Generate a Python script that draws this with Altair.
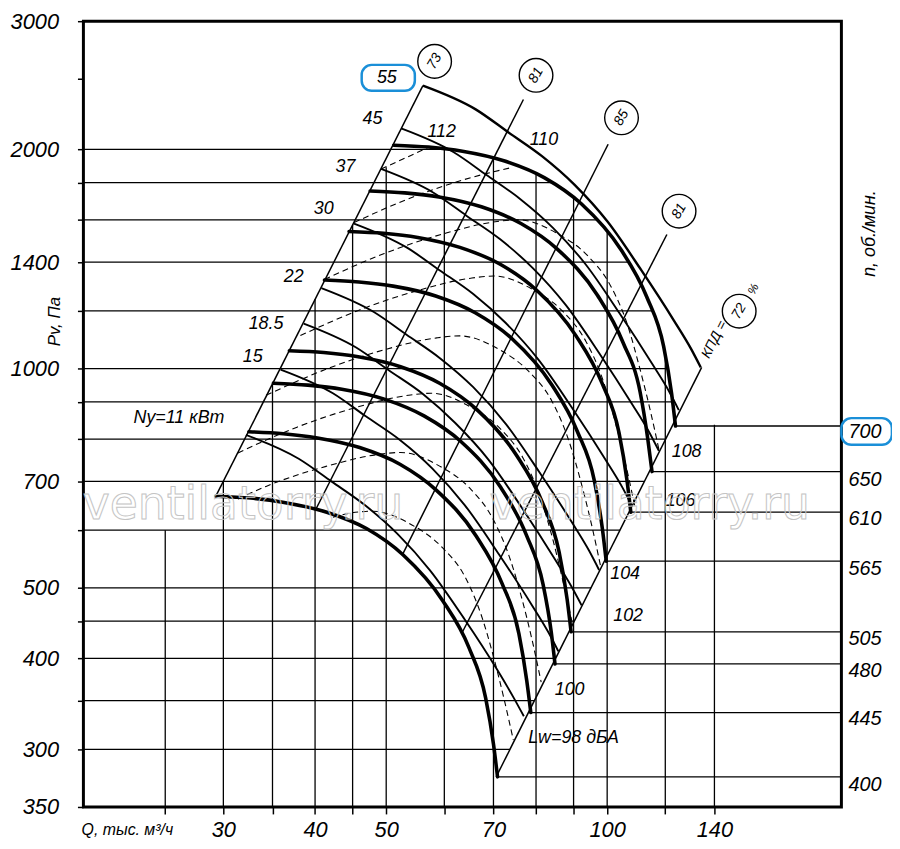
import altair as alt
import pandas as pd

FONT = "Liberation Sans"
BLUE = "#1a8fd8"

# ---------------- axes ----------------
x_tick_values = [25, 30, 35, 40, 45, 50, 60, 70, 80, 90, 100, 120, 140]
x_label_values = [30, 40, 50, 70, 100, 140]
y_tick_values = [250, 300, 350, 400, 450, 500, 600, 700, 800, 900, 1000,
                 1200, 1400, 1600, 1800, 2000, 2500, 3000]
y_label_values = [300, 400, 500, 700, 1000, 1400, 2000, 3000]

# ---------------- grid (clipped to the working field) ----------------
hgrid_p = [300, 350, 400, 450, 500, 600, 700, 800, 900, 1000, 1200, 1400, 1600, 1800, 2000]
hgrid_q_end = [73.7, 79.6, 85.1, 90.2, 95.1, 104.1, 112.4, 120.1, 122.8, 120.9, 115.1, 106.9, 96.7, 84.1, 60.8]
vgrid_q = [25, 30, 35, 40, 45, 50, 60, 70, 80, 90, 100, 120, 140]
vgrid_p_top = [600, 700, 953, 1245, 1576, 1890, 2003, 1948, 1851, 1716, 1538, 1042, 837]

# ---------------- fan curves Pv(Q) at n, об/мин ----------------
rpm_values = [700, 650, 610, 565, 505, 480, 445, 400]
fan_700_q = [51.2, 57.1, 63.5, 72.5, 82.2, 92.2, 104.4, 113.2, 119.4, 122.4, 123.9]
fan_700_p = [2027, 2015, 1989, 1928, 1828, 1684, 1457, 1255, 1072, 924, 834]
fan_650_q = [47.55, 53.0, 59.0, 67.4, 76.3, 85.6, 97.0, 105.1, 110.9, 113.6, 115.1]
fan_650_p = [1754, 1743, 1721, 1668, 1582, 1458, 1261, 1086, 928, 800, 722]
fan_610_q = [44.5, 49.6, 55.2, 63.0, 71.4, 80.1, 90.7, 98.4, 103.8, 106.4, 107.7]
fan_610_p = [1543, 1534, 1514, 1467, 1392, 1282, 1109, 955, 816, 703, 635]
fan_565_q = [41.2, 45.9, 51.1, 58.4, 66.1, 74.2, 84.0, 91.1, 96.1, 98.5, 99.7]
fan_565_p = [1323, 1315, 1298, 1258, 1193, 1099, 951, 819, 700, 603, 544]
fan_505_q = [36.9, 41.1, 45.8, 52.3, 59.2, 66.4, 75.2, 81.6, 86.0, 88.2, 89.3]
fan_505_p = [1058, 1052, 1038, 1006, 954, 879, 761, 655, 560, 482, 435]
fan_480_q = [35.1, 39.1, 43.5, 49.7, 56.3, 63.2, 71.6, 77.6, 81.8, 83.9, 84.9]
fan_480_p = [955, 949, 937, 908, 861, 794, 687, 591, 505, 435, 393]
fan_445_q = [32.5, 36.2, 40.3, 46.0, 52.2, 58.5, 66.3, 71.9, 75.8, 77.7, 78.7]
fan_445_p = [819, 814, 803, 779, 739, 681, 589, 507, 433, 373, 337]
fan_400_q = [29.3, 32.7, 36.3, 41.5, 47.0, 52.7, 59.7, 64.8, 68.3, 70.0, 70.9]
fan_400_p = [668, 664, 655, 635, 603, 555, 480, 414, 353, 305, 275]
rpm_label_p = [819, 704, 621, 531, 425, 384, 330, 268]

# ---------------- power lines Ny, кВт ----------------
pow_55_q = [56.1, 66.2, 73.3, 81.5, 90.3, 100.1, 111.3, 123.3, 130.0, 134.1]
pow_55_p = [2447, 2270, 2112, 1958, 1788, 1592, 1365, 1164, 1066, 1004]
pow_45_q = [52.4, 61.8, 68.5, 76.1, 84.3, 93.5, 103.9, 115.1, 121.4, 125.2]
pow_45_p = [2137, 1982, 1844, 1710, 1562, 1390, 1192, 1016, 931, 877]
pow_37_q = [49.2, 58.0, 64.3, 71.5, 79.2, 87.8, 97.6, 108.1, 114.0, 117.6]
pow_37_p = [1880, 1744, 1622, 1505, 1374, 1223, 1049, 894, 819, 771]
pow_30_q = [45.2, 53.3, 59.1, 65.7, 72.7, 80.6, 89.6, 99.3, 104.7, 108.0]
pow_30_p = [1582, 1467, 1365, 1266, 1156, 1029, 883, 752, 689, 649]
pow_22_q = [40.8, 48.1, 53.3, 59.3, 65.7, 72.8, 80.9, 89.7, 94.5, 97.5]
pow_22_p = [1290, 1196, 1113, 1032, 943, 839, 720, 613, 562, 529]
pow_18_q = [38.6, 45.5, 50.4, 56.1, 62.1, 68.9, 76.6, 84.8, 89.4, 92.3]
pow_18_p = [1153, 1069, 995, 923, 842, 750, 643, 548, 502, 473]
pow_15_q = [35.9, 42.3, 46.9, 52.2, 57.8, 64.0, 71.2, 78.9, 83.2, 85.8]
pow_15_p = [997, 925, 860, 798, 729, 649, 556, 474, 434, 409]
pow_11_q = [32.2, 38.0, 42.1, 46.8, 51.8, 57.4, 63.9, 70.8, 74.6, 77.0]
pow_11_p = [811, 752, 700, 649, 593, 528, 453, 386, 353, 333]

# ---------------- dashed curves ----------------
dash_1_q = [49.2, 52.7, 57.0]
dash_1_p = [1880, 1940, 2012]
dash_2_q = [45.2, 54.5, 65.7, 74.2]
dash_2_p = [1587, 1722, 1833, 1889]
dash_3_q = [41.2, 49.7, 59.9, 70.4, 75.6, 85.6, 94.0, 101.0, 106.5, 110.8, 114.3, 117.6]
dash_3_p = [1326, 1439, 1532, 1591, 1601, 1532, 1430, 1301, 1151, 1000, 882, 775]
dash_4_q = [38.2, 46.0, 55.5, 65.2, 70.1, 79.4, 87.1, 93.6, 98.7, 102.8, 106.0, 109.0]
dash_4_p = [1110, 1204, 1282, 1331, 1340, 1282, 1197, 1089, 964, 837, 738, 649]
dash_5_q = [34.3, 41.3, 49.8, 58.6, 62.9, 71.3, 78.2, 84.1, 88.6, 92.3, 95.2, 97.9]
dash_5_p = [919, 997, 1062, 1102, 1109, 1062, 991, 902, 798, 693, 611, 537]
dash_6_q = [31.4, 37.8, 45.6, 53.6, 57.6, 65.2, 71.6, 76.9, 81.1, 84.5, 87.1, 89.6]
dash_6_p = [766, 831, 885, 919, 925, 885, 826, 752, 665, 578, 509, 448]
dash_7_q = [31.4, 34.3, 41.4, 48.7, 52.3, 59.2, 65.0, 69.8, 73.6, 76.7, 79.1, 81.3]
dash_7_p = [662, 689, 734, 762, 767, 734, 685, 623, 551, 479, 422, 371]
dash_8_q = [42.3, 44.6, 47.9, 54.2, 59.5, 64.0, 67.4, 70.2, 72.4, 74.5]
dash_8_p = [625, 633, 637, 610, 569, 518, 458, 398, 351, 309]

# ---------------- efficiency rays (КПД, %) ----------------
eff_values = ["73", "81", "85", "81", "72"]
ray_q_top = [56.1, 76.9, 100.3, 120.6, 134.5]
ray_p_top = [2447, 2342, 2033, 1528, 1004]
ray_q_bot = [29.3, 40.1, 52.7, 63.3, 70.6]
ray_p_bot = [668, 641, 557, 432, 275]
eff_circle_q = [58.2, 80.0, 104.6, 125.3, 151.3]
eff_circle_p = [2642, 2528, 2210, 1645, 1199]

# ---------------- labels ----------------
power_labels = ["55", "45", "37", "30", "22", "18.5", "15", "Ny=11 кВт"]
power_label_q = [50.1, 47.9, 44.0, 41.1, 37.4, 34.3, 32.9, 26.1]
power_label_p = [2509, 2199, 1892, 1658, 1336, 1153, 1036, 855]
noise_labels = ["112", "110", "108", "106", "104", "102", "100", "Lw=98 дБА"]
noise_label_q = [59.5, 82.0, 128.3, 125.9, 105.8, 106.8, 88.9, 90.0]
noise_label_p = [2111, 2059, 769, 657, 523, 457, 362, 311]

Q_MIN, Q_MAX = 19.34, 208.5
P_MIN, P_MAX = 250, 3000

# ---------------- build tables ----------------
def line_table(named):
    rows = []
    for name, (qs, ps) in named.items():
        for i, (q, p) in enumerate(zip(qs, ps)):
            rows.append({"id": name, "i": i, "q": q, "p": p})
    return pd.DataFrame(rows)

fan_df = line_table({
    "700": (fan_700_q, fan_700_p), "650": (fan_650_q, fan_650_p),
    "610": (fan_610_q, fan_610_p), "565": (fan_565_q, fan_565_p),
    "505": (fan_505_q, fan_505_p), "480": (fan_480_q, fan_480_p),
    "445": (fan_445_q, fan_445_p), "400": (fan_400_q, fan_400_p),
})
env_df = line_table({"55": (pow_55_q, pow_55_p)})
pow_df = line_table({
    "45": (pow_45_q, pow_45_p), "37": (pow_37_q, pow_37_p),
    "30": (pow_30_q, pow_30_p), "22": (pow_22_q, pow_22_p),
    "18.5": (pow_18_q, pow_18_p), "15": (pow_15_q, pow_15_p),
    "11": (pow_11_q, pow_11_p),
})
dash_df = line_table({
    "d1": (dash_1_q, dash_1_p), "d2": (dash_2_q, dash_2_p),
    "d3": (dash_3_q, dash_3_p), "d4": (dash_4_q, dash_4_p),
    "d5": (dash_5_q, dash_5_p), "d6": (dash_6_q, dash_6_p),
    "d7": (dash_7_q, dash_7_p), "d8": (dash_8_q, dash_8_p),
})
ray_df = line_table({
    f"r{k}": ([ray_q_top[k], ray_q_bot[k]], [ray_p_top[k], ray_p_bot[k]])
    for k in range(len(eff_values))
})

hgrid_df = pd.DataFrame({"q": [Q_MIN] * len(hgrid_p), "q2": hgrid_q_end, "p": hgrid_p})
vgrid_df = pd.DataFrame({"q": vgrid_q, "p": [P_MIN] * len(vgrid_q), "p2": vgrid_p_top})
rpm_df = pd.DataFrame({
    "q": [fan_700_q[-1], fan_650_q[-1], fan_610_q[-1], fan_565_q[-1],
          fan_505_q[-1], fan_480_q[-1], fan_445_q[-1], fan_400_q[-1]],
    "q2": [Q_MAX] * 8,
    "p": [fan_700_p[-1], fan_650_p[-1], fan_610_p[-1], fan_565_p[-1],
          fan_505_p[-1], fan_480_p[-1], fan_445_p[-1], fan_400_p[-1]],
})
rpm_text_df = pd.DataFrame({"q": [224.6] * 8, "p": rpm_label_p, "t": [str(r) for r in rpm_values]})
power_text_df = pd.DataFrame({"q": power_label_q, "p": power_label_p, "t": power_labels})
noise_text_df = pd.DataFrame({"q": noise_label_q, "p": noise_label_p, "t": noise_labels})
circle_df = pd.DataFrame({"q": eff_circle_q, "p": eff_circle_p, "t": eff_values})
box_df = pd.DataFrame({"q": [46.3, 208.5], "q2": [54.7, 244.3], "p": [2408, 786], "p2": [2613, 855]})
wm_df = pd.DataFrame({"q": [31.9, 114.3], "p": [621, 621], "t": ["ventilatorry.ru", "ventilatorry.ru"]})

# ---------------- encodings ----------------
xs = alt.Scale(type="log", domain=[Q_MIN, Q_MAX], nice=False)
ys = alt.Scale(type="log", domain=[P_MIN, P_MAX], nice=False)

x_axis = alt.Axis(
    values=x_tick_values, format="d",
    labelExpr="indexof([30,40,50,70,100,140], datum.value) >= 0 ? datum.label : ''",
    tickSize=7, tickWidth=1.5, tickColor="black", domain=False, grid=False,
    labelFont=FONT, labelFontSize=22, labelFontStyle="italic", labelColor="black",
    labelPadding=6, labelOverlap=False, labelFlush=False, labelAngle=0,
)
y_axis = alt.Axis(
    values=y_tick_values, format="d",
    labelExpr="datum.value == 250 ? '350' : (indexof([300,400,500,700,1000,1400,2000,3000], datum.value) >= 0 ? datum.label : '')",
    tickSize=6, tickWidth=1.5, tickColor="black", domain=False, grid=False,
    labelFont=FONT, labelFontSize=22, labelFontStyle="italic", labelColor="black",
    labelPadding=19, labelOverlap=False, labelFlush=False, labelBaseline="middle",
)
X = alt.X("q:Q", scale=xs, axis=x_axis, title=None)
Y = alt.Y("p:Q", scale=ys, axis=y_axis, title=None)


def curve_layer(df, **mark):
    return alt.Chart(df).mark_line(interpolate="monotone", color="black", **mark).encode(
        x=X, y=Y, detail="id:N", order="i:Q")


def text_layer(df, **mark):
    base = dict(font=FONT, fontStyle="italic", color="black", align="center", baseline="middle")
    base.update(mark)
    return alt.Chart(df).mark_text(**base).encode(x=X, y=Y, text="t:N")


layers = [
    alt.Chart(hgrid_df).mark_rule(color="black", strokeWidth=1.3).encode(x=X, x2="q2:Q", y=Y),
    alt.Chart(vgrid_df).mark_rule(color="black", strokeWidth=1.3).encode(x=X, y=Y, y2="p2:Q"),
    alt.Chart(rpm_df).mark_rule(color="black", strokeWidth=1.3).encode(x=X, x2="q2:Q", y=Y),
    alt.Chart(ray_df).mark_line(color="black", strokeWidth=1.5).encode(x=X, y=Y, detail="id:N", order="i:Q"),
    curve_layer(dash_df, strokeWidth=1.1, strokeDash=[6, 4]),
    curve_layer(pow_df, strokeWidth=1.9),
    curve_layer(env_df, strokeWidth=2.4),
    curve_layer(fan_df, strokeWidth=3.6, strokeCap="round"),
    alt.Chart(circle_df).mark_point(shape="circle", size=1150, fill="white", fillOpacity=1,
                                    stroke="black", strokeWidth=1.4, opacity=1).encode(x=X, y=Y),
    text_layer(circle_df, fontSize=14, angle=300),
    text_layer(power_text_df, fontSize=18),
    text_layer(noise_text_df, fontSize=18),
    text_layer(rpm_text_df, fontSize=20),
    alt.Chart(box_df).mark_rect(fillOpacity=0, stroke=BLUE, strokeWidth=2.5, cornerRadius=10).encode(
        x=X, x2="q2:Q", y=Y, y2="p2:Q"),
    text_layer(pd.DataFrame({"q": [140.0], "p": [1096], "t": ["КПД ="]}), fontSize=14, angle=297),
    text_layer(pd.DataFrame({"q": [158.0], "p": [1286], "t": ["%"]}), fontSize=12, angle=297),
    text_layer(pd.DataFrame({"q": [17.7], "p": [1160], "t": ["Pv, Па"]}), fontSize=17, angle=270),
    text_layer(pd.DataFrame({"q": [228.1], "p": [1533], "t": ["n, об./мин."]}), fontSize=18, angle=270),
    text_layer(pd.DataFrame({"q": [22.2], "p": [232.7], "t": ["Q, тыс. м³/ч"]}), fontSize=16),
    alt.Chart(wm_df).mark_text(font="DejaVu Sans", fontSize=46, align="center", baseline="alphabetic",
                               fill="white", fillOpacity=0, stroke="#c4c4c4", strokeWidth=1).encode(
        x=X, y=Y, text="t:N"),
]

chart = alt.layer(*layers).properties(
    width=764, height=792,
    padding={"left": 76, "top": 10, "right": 51, "bottom": 31},
    autosize=alt.AutoSizeParams(type="none"),
    background="white",
).configure_view(stroke="black", strokeWidth=3)

chart.save("out.html", embed_options={"renderer": "svg", "actions": False})
